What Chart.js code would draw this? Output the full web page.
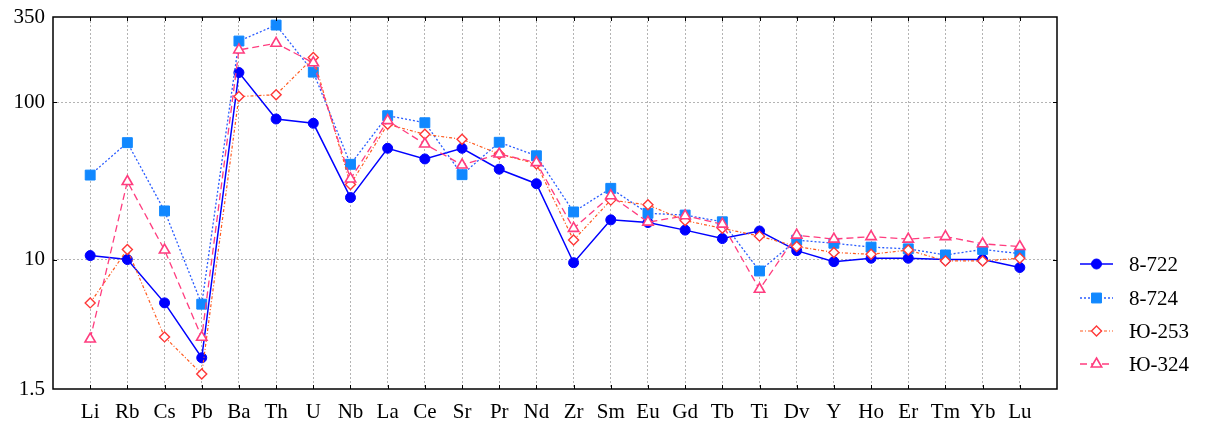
<!DOCTYPE html>
<html>
<head>
<meta charset="utf-8">
<script src="https://cdn.jsdelivr.net/npm/chart.js@4.4.0/dist/chart.umd.min.js"></script>
<style>
  html, body { margin: 0; padding: 0; background: #fff; }
  #wrap { width: 1207px; height: 423px; }
</style>
</head>
<body>
<div id="wrap"><canvas id="spider" width="1207" height="423"></canvas></div>
<script>
/* Multi-element spider diagram, log scale, 4 samples. */

const ELEMENTS = ["Li", "Rb", "Cs", "Pb", "Ba", "Th", "U", "Nb", "La", "Ce", "Sr", "Pr", "Nd",
  "Zr", "Sm", "Eu", "Gd", "Tb", "Ti", "Dv", "Y", "Ho", "Er", "Tm", "Yb", "Lu"];

const S_8_722 = [10.6, 10.0, 5.3, 2.37, 155, 78.5, 73.7, 24.8, 51.1, 43.7, 51.1, 37.6, 30.4,
  9.55, 17.9, 17.2, 15.4, 13.6, 15.2, 11.4, 9.7, 10.2, 10.2, 10.0, 10.0, 8.9];
const S_8_724 = [34.5, 55.5, 20.4, 5.2, 246, 311, 156, 40.4, 82.4, 74.3, 34.7, 55.8, 45.8,
  20.1, 28.4, 19.7, 19.2, 17.4, 8.46, 13.3, 12.7, 12.0, 11.7, 10.7, 11.6, 10.9];
const S_YU_253 = [5.3, 11.6, 3.22, 1.87, 109, 112, 193, 30.1, 72.6, 62.7, 58.3, 47.0, 40.6,
  13.3, 23.9, 22.3, 17.7, 15.8, 14.1, 12.1, 11.1, 10.8, 11.5, 9.8, 9.8, 10.2];
const S_YU_324 = [3.12, 31.4, 11.5, 3.2, 216, 238, 179, 32.6, 76.6, 54.4, 40.0, 47.0, 41.4,
  15.8, 25.5, 17.3, 19.0, 16.8, 6.47, 14.3, 13.5, 14.0, 13.5, 14.0, 12.6, 12.1];

const Y_TICKS = [1.5, 10, 100, 350];

const FONT = "'Liberation Serif', 'Times New Roman', serif";

const toPoints = (arr) => arr.map((v, i) => ({ x: i, y: v }));

const datasets = [
  { label: "8-722", data: toPoints(S_8_722), borderColor: "#0000ff", backgroundColor: "#0000ff",
    borderWidth: 1.5, pointStyle: "circle", pointRadius: 5, pointBorderWidth: 1, order: 4 },
  { label: "8-724", data: toPoints(S_8_724), borderColor: "#2a5cff", backgroundColor: "#1188ff",
    pointBorderColor: "#1188ff", borderWidth: 1.3, borderDash: [2, 2], pointStyle: "rect",
    pointRadius: 7, pointBorderWidth: 1, order: 3 },
  { label: "Ю-253", data: toPoints(S_YU_253), borderColor: "#ff5a1e", backgroundColor: "#ffffff",
    pointBorderColor: "#ff3838", borderWidth: 1.2, borderDash: [3, 2, 1, 2], pointStyle: "rectRot",
    pointRadius: 5, pointBorderWidth: 1.4, order: 2 },
  { label: "Ю-324", data: toPoints(S_YU_324), borderColor: "#ff3d7f", backgroundColor: "#ffffff",
    pointBorderColor: "#ff3d7f", borderWidth: 1.3, borderDash: [7, 4], pointStyle: "triangle",
    pointRadius: 6, pointBorderWidth: 1.6, order: 1 },
];

// frame, inner tick marks and the legend on the right
const framePlugin = {
  id: "frame",
  afterDraw(chart) {
    const { ctx, chartArea: a, scales: { x, y } } = chart;
    ctx.save();
    ctx.strokeStyle = "#000";
    ctx.lineWidth = 1.5;
    ctx.strokeRect(a.left, a.top, a.right - a.left, a.bottom - a.top);
    ctx.lineWidth = 1;
    ctx.beginPath();
    ELEMENTS.forEach((_, i) => {
      const px = Math.round(x.getPixelForValue(i)) + 0.5;
      ctx.moveTo(px, a.top); ctx.lineTo(px, a.top + 4);
      ctx.moveTo(px, a.bottom); ctx.lineTo(px, a.bottom - 4);
    });
    [10, 100].forEach((v) => {
      const py = Math.round(y.getPixelForValue(v)) + 0.5;
      ctx.moveTo(a.left, py); ctx.lineTo(a.left + 4, py);
      ctx.moveTo(a.right, py); ctx.lineTo(a.right - 4, py);
    });
    ctx.stroke();

    const lx = 1080, lw = 33, tx = 1129;
    const rows = [264, 298, 331, 364];
    datasets.forEach((ds, i) => {
      const ly = rows[i];
      ctx.strokeStyle = ds.borderColor;
      ctx.lineWidth = ds.borderWidth;
      ctx.setLineDash(ds.borderDash || []);
      ctx.beginPath();
      ctx.moveTo(lx, ly); ctx.lineTo(lx + lw, ly);
      ctx.stroke();
      ctx.setLineDash([]);
      ctx.fillStyle = ds.backgroundColor;
      ctx.strokeStyle = ds.pointBorderColor || ds.borderColor;
      ctx.lineWidth = ds.pointBorderWidth;
      Chart.helpers.drawPoint(ctx, { pointStyle: ds.pointStyle, radius: ds.pointRadius,
        rotation: 0, borderWidth: ds.pointBorderWidth }, lx + lw / 2, ly);
      ctx.fillStyle = "#000";
      ctx.font = "21px " + FONT;
      ctx.textBaseline = "middle";
      ctx.textAlign = "left";
      ctx.fillText(ds.label, tx, ly + 1);
    });
    ctx.restore();
  },
};

const dotted = { color: (c) => (c.tick && (c.tick.value === 10 || c.tick.value === 100)) ? "#b4b4b4" : "rgba(0,0,0,0)" };

new Chart(document.getElementById("spider"), {
  type: "line",
  data: { datasets },
  options: {
    responsive: false,
    animation: false,
    devicePixelRatio: 1,
    layout: { padding: { top: 17, right: 150, left: 0, bottom: 0 } },
    plugins: { legend: { display: false }, tooltip: { enabled: false } },
    scales: {
      x: {
        type: "linear",
        min: -1,
        max: ELEMENTS.length,
        afterBuildTicks: (s) => { s.ticks = ELEMENTS.map((_, i) => ({ value: i })); },
        afterFit: (s) => { s.height = 34; s.paddingLeft = 0; s.paddingRight = 0; },
        ticks: {
          autoSkip: false, maxRotation: 0, padding: 11, color: "#000",
          font: { family: FONT, size: 21 },
          callback: (v) => ELEMENTS[v],
        },
        grid: { color: "#b4b4b4", lineWidth: 1, drawTicks: false, tickBorderDash: [2, 2] },
        border: { display: false, dash: [2, 2] },
      },
      y: {
        type: "logarithmic",
        min: 1.5,
        max: 350,
        afterBuildTicks: (s) => { s.ticks = Y_TICKS.map((v) => ({ value: v })); },
        afterFit: (s) => { s.width = 53; s.paddingTop = 0; s.paddingBottom = 0; },
        ticks: {
          padding: 8, color: "#000",
          font: { family: FONT, size: 21 },
          callback: (v) => String(v),
        },
        grid: { color: dotted.color, lineWidth: 1, drawTicks: false },
        border: { display: false, dash: [2, 2] },
      },
    },
  },
  plugins: [framePlugin],
});
</script>
</body>
</html>
